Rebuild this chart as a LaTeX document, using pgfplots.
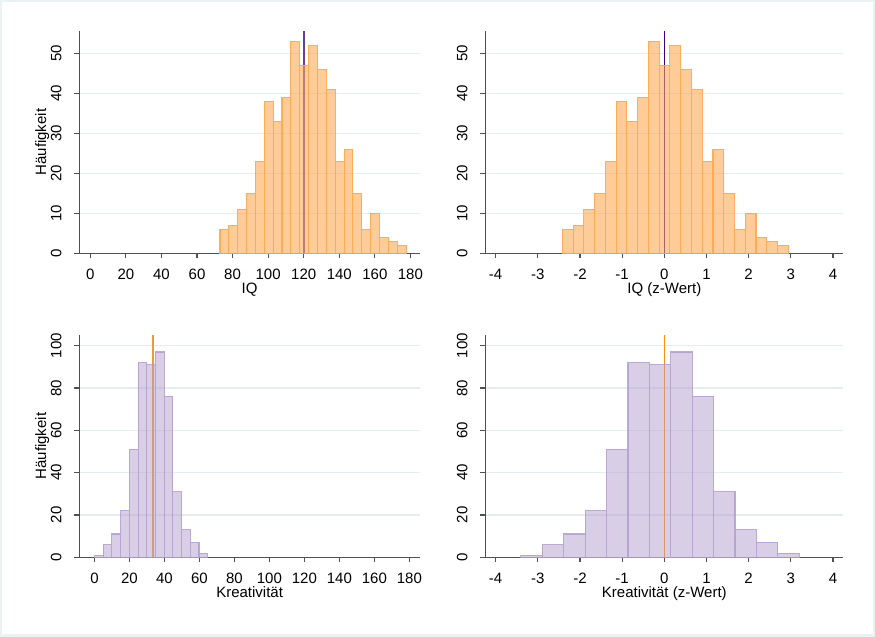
\documentclass[border=0pt]{standalone}
\usepackage{fontspec}
\setmainfont{Liberation Sans}
\usepackage{pgfplots}
\pgfplotsset{compat=1.18}

\definecolor{framec}{RGB}{234,242,243}
\definecolor{gridc}{RGB}{230,237,240}
\definecolor{axc}{RGB}{80,80,80}
\definecolor{orbar}{RGB}{253,168,80}
\definecolor{pubar}{RGB}{178,158,205}
\definecolor{purpleline}{RGB}{106,61,154}
\definecolor{darkpurple}{RGB}{63,0,125}
\definecolor{orline}{RGB}{240,150,70}
\definecolor{orlinetwo}{RGB}{255,140,20}

\pgfplotsset{
 panel/.style={
  scale only axis, height=222.3bp,
  axis lines=left, axis line style={-, draw=axc, line width=1.1bp},
  tick align=outside, major tick length=5bp,
  tick style={draw=axc, line width=1.1bp},
  ymajorgrids, grid style={draw=gridc, line width=1.1bp},
  ymin=0,
  /pgf/number format/assume math mode=true,
  tick label style={font=\fontsize{15bp}{18bp}\selectfont},
  label style={font=\fontsize{16.6bp}{20bp}\selectfont},
  xticklabel style={anchor=base, inner sep=0pt},
  yticklabel style={rotate=90, anchor=base, inner sep=0pt},
  xticklabel shift=21bp, yticklabel shift=13bp,
  every axis x label/.style={at={(axis description cs:0.5,-0.182)}, anchor=base, inner sep=0pt},
  every axis y label/.style={at={(axis description cs:-0.0875,0.5)}, rotate=90, anchor=south, inner sep=0pt},
 },
 orbars/.style={ybar interval, fill=orbar, fill opacity=0.58, draw=orbar, draw opacity=0.9, line width=1.1bp},
 pubars/.style={ybar interval, fill=pubar, fill opacity=0.5, draw=pubar, draw opacity=0.85, line width=1.1bp},
}

\begin{document}
\begin{tikzpicture}[font=\fontsize{15bp}{18bp}\selectfont]
\fill[framec] (0,0) rectangle (875bp,637bp);
\fill[white] (2bp,3bp) rectangle (873bp,635bp);
\useasboundingbox (0,0) rectangle (875bp,637bp);

% Top left: IQ
\begin{axis}[panel, at={(79.3bp,383.7bp)}, anchor=south west, width=340.7bp,
  xmin=-6.2, xmax=185.4, ymax=55.6,
  xtick={0,20,...,180}, ytick={0,10,...,50},
  xlabel={IQ}, ylabel={Häufigkeit}]
\addplot[purpleline, line width=1.8bp] coordinates {(120.3,0) (120.3,55.6)};
\addplot[orbars] coordinates {
(72.90,6) (77.89,7) (82.87,11) (87.86,15) (92.84,23) (97.83,38) (102.81,33)
(107.80,39) (112.78,53) (117.77,47) (122.75,52) (127.74,46) (132.72,41)
(137.71,23) (142.69,26) (147.68,15) (152.66,6) (157.65,10) (162.63,4)
(167.62,3) (172.60,2) (177.59,0)};
\end{axis}

% Top right: IQ z
\begin{axis}[panel, at={(485.3bp,383.7bp)}, anchor=south west, width=358bp,
  xmin=-4.245, xmax=4.245, ymax=55.6,
  xtick={-4,-3,...,4}, ytick={0,10,...,50},
  xlabel={IQ (z-Wert)}]
\addplot[darkpurple, line width=1.3bp] coordinates {(0,0) (0,55.6)};
\addplot[orbars] coordinates {
(-2.419,6) (-2.164,7) (-1.909,11) (-1.653,15) (-1.398,23) (-1.143,38) (-0.888,33)
(-0.633,39) (-0.377,53) (-0.122,47) (0.133,52) (0.388,46) (0.643,41)
(0.899,23) (1.154,26) (1.409,15) (1.664,6) (1.919,10) (2.175,4)
(2.430,3) (2.685,2) (2.940,0)};
\end{axis}

% Bottom left: Kreativitaet
\begin{axis}[panel, at={(79.3bp,79.7bp)}, anchor=south west, width=340.7bp,
  xmin=-8.7, xmax=186.1, ymax=105.05,
  xtick={0,20,...,180}, ytick={0,20,...,100},
  xlabel={Kreativität}, ylabel={Häufigkeit}]
\addplot[orline, line width=1.8bp] coordinates {(33.4,0) (33.4,105.05)};
\addplot[pubars] coordinates {
(0.00,1) (4.98,6) (9.96,11) (14.94,22) (19.92,51) (24.90,92) (29.88,91)
(34.86,97) (39.84,76) (44.82,31) (49.80,13) (54.78,7) (59.76,2) (64.74,0)};
\end{axis}

% Bottom right: Kreativitaet z
\begin{axis}[panel, at={(485.3bp,79.7bp)}, anchor=south west, width=358bp,
  xmin=-4.245, xmax=4.245, ymax=105.05,
  xtick={-4,-3,...,4}, ytick={0,20,...,100},
  xlabel={Kreativität (z-Wert)}]
\addplot[orlinetwo, line width=1.3bp] coordinates {(0,0) (0,105.05)};
\addplot[pubars] coordinates {
(-3.400,1) (-2.892,6) (-2.385,11) (-1.877,22) (-1.369,51) (-0.862,92) (-0.354,91)
(0.154,97) (0.662,76) (1.169,31) (1.677,13) (2.185,7) (2.692,2) (3.200,0)};
\end{axis}
\end{tikzpicture}
\end{document}
